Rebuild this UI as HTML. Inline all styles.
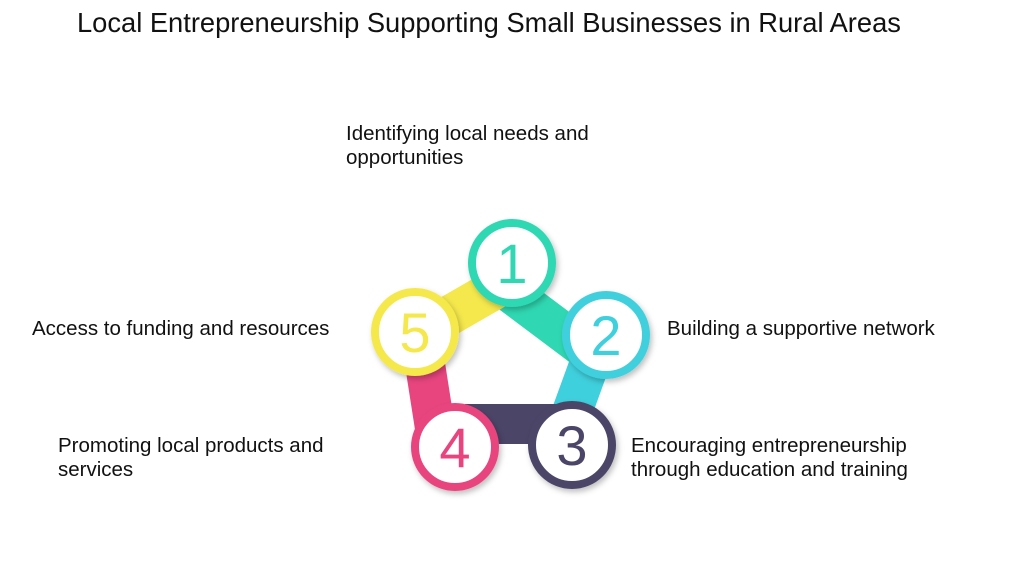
<!DOCTYPE html>
<html><head><meta charset="utf-8"><style>
body{margin:0;width:1024px;height:576px;background:#fff;position:relative;overflow:hidden;font-family:"Liberation Sans",sans-serif;color:#111}
.t{position:absolute;font-size:20.5px;line-height:24px;white-space:nowrap}
h1{position:absolute;left:77px;top:7px;margin:0;font-weight:normal;font-size:27.3px;white-space:nowrap}
</style></head><body>
<h1>Local Entrepreneurship Supporting Small Businesses in Rural Areas</h1>
<div class="t" style="left:346px;top:122px">Identifying local needs and<br>opportunities</div>
<div class="t" style="left:667px;top:317px">Building a supportive network</div>
<div class="t" style="left:32px;top:317px">Access to funding and resources</div>
<div class="t" style="left:58px;top:434px">Promoting local products and<br>services</div>
<div class="t" style="left:631px;top:434px">Encouraging entrepreneurship<br>through education and training</div>
<svg width="1024" height="576" style="position:absolute;left:0;top:0">
<defs><filter id="s" x="-30%" y="-30%" width="160%" height="160%"><feDropShadow dx="2" dy="3" stdDeviation="3" flood-opacity="0.25"/></filter></defs>
<g stroke-width="40" stroke-linecap="butt">
<line x1="500" y1="285" x2="600" y2="360" stroke="#2fd8b2"/>
<line x1="600" y1="335" x2="560" y2="445" stroke="#3fd0dd"/>
<line x1="580" y1="424" x2="465" y2="424" stroke="#4b4567"/>
<line x1="440" y1="460" x2="422" y2="345" stroke="#e8457e"/>
<line x1="398" y1="345" x2="525" y2="272" stroke="#f5e84c"/>
</g>
<g filter="url(#s)" stroke-width="8" fill="#fff">
<circle cx="512" cy="263" r="40" stroke="#2fd8b2"/>
<circle cx="606" cy="335" r="40" stroke="#3fd0dd"/>
<circle cx="572" cy="445" r="40" stroke="#4b4567"/>
<circle cx="455" cy="447" r="40" stroke="#e8457e"/>
<circle cx="415" cy="332" r="40" stroke="#f5e84c"/>
</g>
<g font-family="Liberation Sans,sans-serif" font-size="56" text-anchor="middle">
<text x="512" y="283" fill="#2fd8b2">1</text>
<text x="606" y="355" fill="#3fd0dd">2</text>
<text x="572" y="465" fill="#4b4567">3</text>
<text x="455" y="467" fill="#e8457e">4</text>
<text x="415" y="352" fill="#f5e84c">5</text>
</g>
</svg>
</body></html>
